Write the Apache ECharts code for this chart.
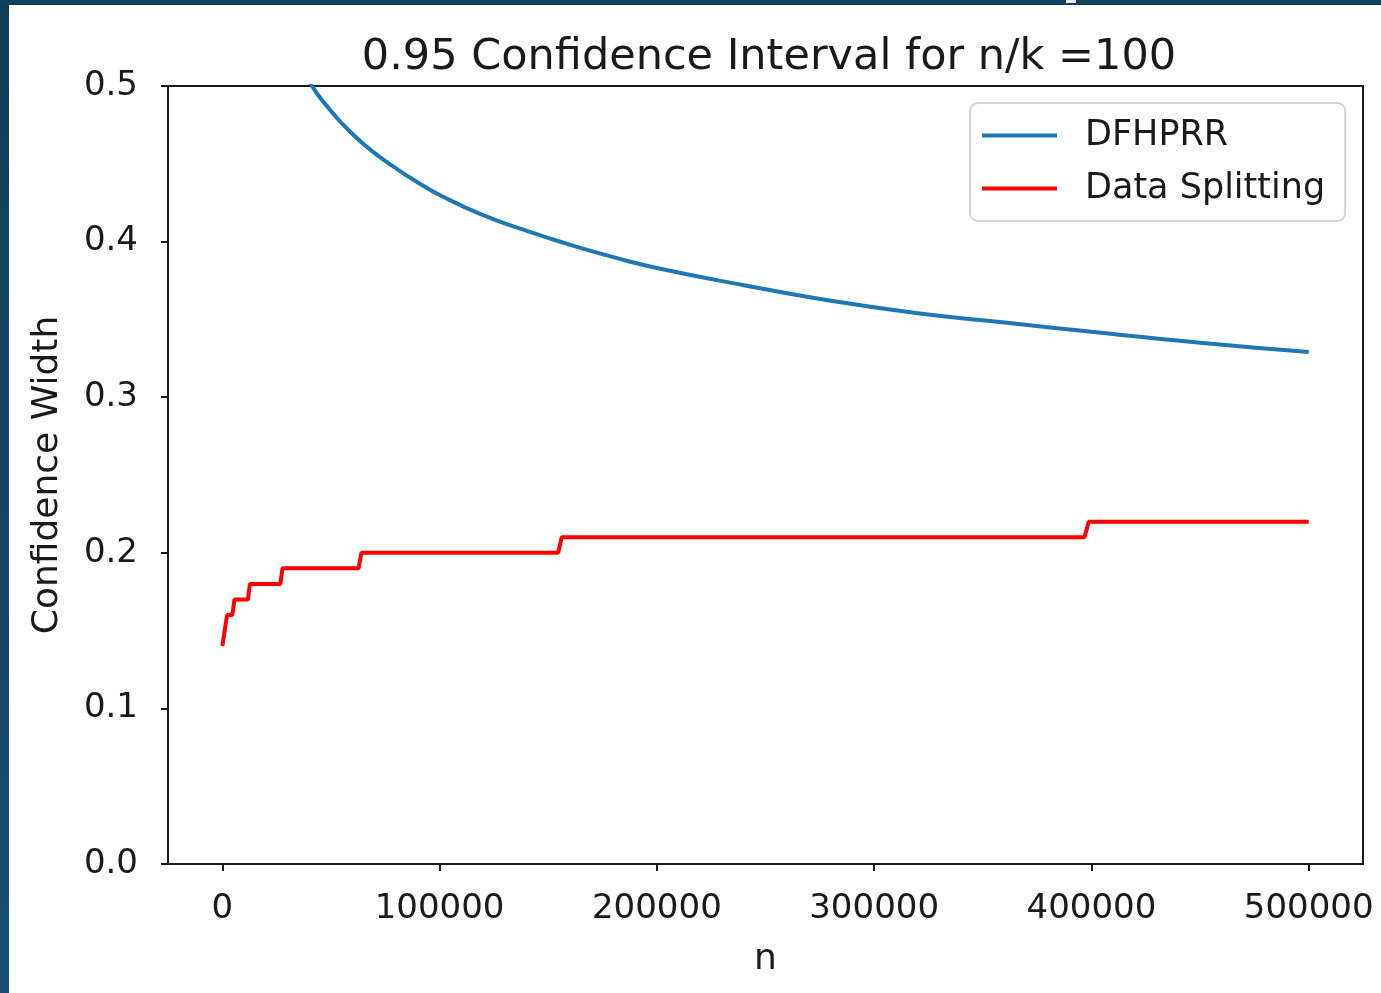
<!DOCTYPE html>
<html>
<head>
<meta charset="utf-8">
<script src="https://cdn.jsdelivr.net/npm/echarts@6/dist/echarts.min.js"></script>
<style>
  html, body { margin: 0; padding: 0; background: #fff; }
  #chart { position: absolute; left: 0; top: 0; width: 1381px; height: 993px; background: #fff; }
  /* dark frame of the screenshot */
  #edgeLeft { position: absolute; left: 0; top: 0; width: 9px; height: 993px;
    background: linear-gradient(#0f3d57, #15516f); z-index: 2; }
  #edgeTop { position: absolute; left: 0; top: 0; width: 1381px; height: 5px; background: #103f59; z-index: 2; }
  #edgeMark { position: absolute; left: 1066px; top: 0; width: 10px; height: 3px; background: #e8eef2; z-index: 3; }
</style>
</head>
<body>
<div id="chart"></div>
<div id="edgeLeft"></div>
<div id="edgeTop"></div>
<div id="edgeMark"></div>
<script>
// values
const xTicks = [0, 100000, 200000, 300000, 400000, 500000];

const blueN = [35000, 40000, 50000, 60000, 70000, 80000, 90000, 100000, 120000, 140000,
  160000, 180000, 200000, 240000, 280000, 320000, 360000, 400000, 450000, 500000];
const blueW = [0.521, 0.503, 0.484, 0.469, 0.457, 0.447, 0.438, 0.430, 0.417, 0.407,
  0.398, 0.390, 0.383, 0.372, 0.362, 0.354, 0.348, 0.342, 0.335, 0.329];

const redN = [0, 2200, 4600, 5600, 11800, 12700, 26700, 27700, 62700, 64000,
  154600, 156200, 396800, 398800, 500000];
const redW = [0.14, 0.16, 0.16, 0.17, 0.17, 0.18, 0.18, 0.19, 0.19, 0.20,
  0.20, 0.21, 0.21, 0.22, 0.22];

const INK = "#1a1a1a";
const FONT = "DejaVu Sans";

const chart = echarts.init(document.getElementById("chart"), null, { renderer: "canvas" });

chart.setOption({
  animation: false,
  backgroundColor: "#fff",
  textStyle: { fontFamily: FONT, color: INK },
  title: {
    text: "0.95 Confidence Interval for n/k =100",
    left: 764,
    textAlign: "center",
    top: 31,
    textStyle: { fontFamily: FONT, fontSize: 43, fontWeight: "normal", color: INK },
  },
  legend: {
    orient: "vertical",
    left: 970,
    top: 103,
    padding: [14, 20, 14, 12],
    itemGap: 16,
    itemWidth: 75,
    itemHeight: 4,
    icon: "rect",
    backgroundColor: "rgba(255,255,255,0.8)",
    borderColor: "#d4d4d4",
    borderWidth: 2,
    borderRadius: 8,
    textStyle: { fontFamily: FONT, fontSize: 35, lineHeight: 37, color: INK, padding: [0, 0, 0, 23] },
    data: ["DFHPRR", "Data Splitting"],
  },
  grid: {
    left: 168, top: 86, width: 1195, height: 778,
    show: true, borderColor: INK, borderWidth: 2, backgroundColor: "transparent",
  },
  xAxis: {
    type: "value",
    min: -25000,
    max: 525000,
    name: "n",
    nameLocation: "middle",
    nameGap: 78,
    nameTextStyle: { fontFamily: FONT, fontSize: 36, color: INK },
    axisLine: { show: true, onZero: false, lineStyle: { color: INK, width: 2 } },
    axisTick: { show: true, length: 7, customValues: xTicks, lineStyle: { color: INK, width: 2 } },
    axisLabel: {
      customValues: xTicks, margin: 28, fontFamily: FONT, fontSize: 34, color: INK,
      formatter: (v) => String(v),
    },
    splitLine: { show: false },
  },
  yAxis: {
    type: "value",
    min: 0,
    max: 0.5,
    interval: 0.1,
    name: "Confidence Width",
    nameLocation: "middle",
    nameGap: 102,
    nameTextStyle: { fontFamily: FONT, fontSize: 36, color: INK },
    axisLine: { show: true, onZero: false, lineStyle: { color: INK, width: 2 } },
    axisTick: { show: true, length: 7, lineStyle: { color: INK, width: 2 } },
    axisLabel: {
      margin: 30, fontFamily: FONT, fontSize: 34, color: INK, padding: [8, 0, 0, 0],
      formatter: (v) => v.toFixed(1),
    },
    splitLine: { show: false },
  },
  series: [
    {
      name: "DFHPRR",
      type: "line",
      smooth: true,
      showSymbol: false,
      clip: true,
      lineStyle: { color: "#1f77b4", width: 4 },
      itemStyle: { color: "#1f77b4" },
      data: blueN.map((n, i) => [n, blueW[i]]),
    },
    {
      name: "Data Splitting",
      type: "line",
      showSymbol: false,
      clip: true,
      lineStyle: { color: "#ff0000", width: 4 },
      itemStyle: { color: "#ff0000" },
      data: redN.map((n, i) => [n, redW[i]]),
    },
  ],
});
</script>
</body>
</html>
